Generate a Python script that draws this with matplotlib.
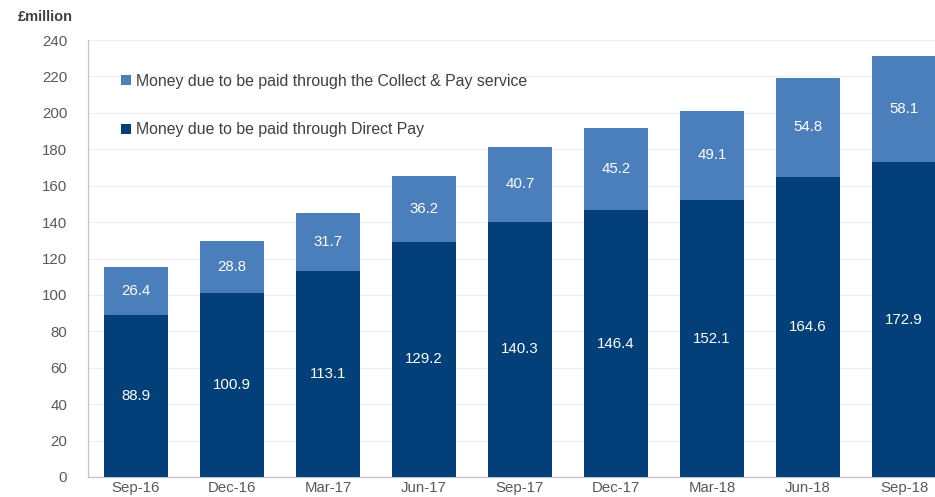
import numpy as np
import matplotlib.pyplot as plt

plt.rcParams['font.family'] = ['Liberation Sans', 'DejaVu Sans']

# Quarterly figures, £ million
quarters = ['Sep-16', 'Dec-16', 'Mar-17', 'Jun-17', 'Sep-17',
            'Dec-17', 'Mar-18', 'Jun-18', 'Sep-18']
direct_pay = [88.9, 100.9, 113.1, 129.2, 140.3, 146.4, 152.1, 164.6, 172.9]
collect_pay = [26.4, 28.8, 31.7, 36.2, 40.7, 45.2, 49.1, 54.8, 58.1]

dark_blue = '#033f78'
light_blue = '#4b7fbc'
grey = '#595959'

fig = plt.figure(figsize=(9.35, 4.97), dpi=100)
ax = fig.add_axes([88 / 935, 20 / 497, 864 / 935, 437 / 497])

x = np.arange(len(quarters))
bars_dp = ax.bar(x, direct_pay, width=0.667, color=dark_blue,
                 label='Money due to be paid through Direct Pay', zorder=3)
bars_cp = ax.bar(x, collect_pay, width=0.667, bottom=direct_pay, color=light_blue,
                 label='Money due to be paid through the Collect & Pay service', zorder=3)

ax.bar_label(bars_dp, labels=[f'{v:.1f}' for v in direct_pay], label_type='center',
             color='white', fontsize=10.8)
ax.bar_label(bars_cp, labels=[f'{v:.1f}' for v in collect_pay], label_type='center',
             color='white', fontsize=10.8)

ax.set_xlim(-0.5, 8.5)
ax.set_ylim(0, 240)
ax.set_yticks(range(0, 241, 20))
ax.set_xticks(x)
ax.set_xticklabels(quarters)
ax.tick_params(axis='both', length=0, colors=grey, labelsize=10.8)
ax.tick_params(axis='y', pad=15)
ax.tick_params(axis='x', pad=3)

ax.grid(axis='y', color='#efefef', linewidth=0.8, zorder=0)
for side in ['top', 'right']:
    ax.spines[side].set_visible(False)
for side in ['left', 'bottom']:
    ax.spines[side].set_color('#c4c4c4')
    ax.spines[side].set_linewidth(0.9)

handles, labels = ax.get_legend_handles_labels()
leg = ax.legend(handles[::-1], labels[::-1], loc='upper left',
                bbox_to_anchor=(0.022, 0.955), frameon=False, fontsize=11.4,
                handlelength=0.6, handleheight=0.6, handletextpad=0.3,
                labelspacing=2.1)
for t in leg.get_texts():
    t.set_color('#404040')

fig.text(18 / 935, 1 - 17 / 497, '£million', fontsize=10.5, fontweight='bold',
         color='#404040', va='center')

fig.savefig('out.png', dpi=100)
